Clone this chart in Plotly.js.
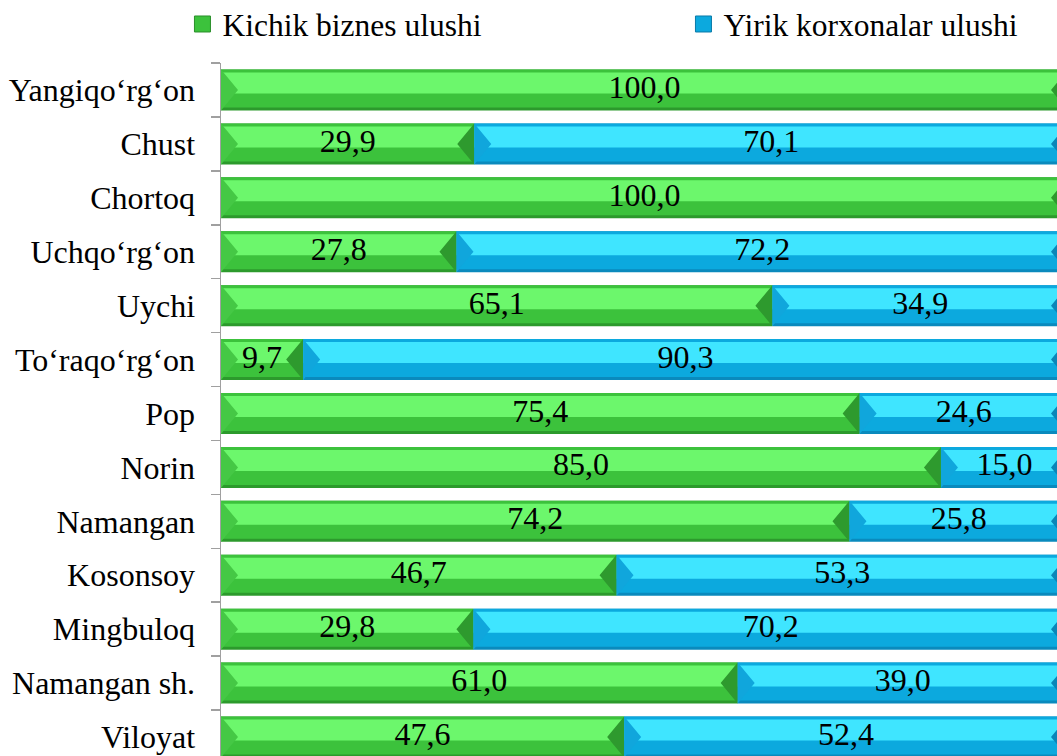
<!DOCTYPE html>
<html>
<head>
<meta charset="utf-8">
<script src="https://cdn.plot.ly/plotly-3.0.1.min.js"></script>
<style>
html,body{margin:0;padding:0;overflow:hidden;background:#fff;}
#chart{width:1070px;height:771px;}
</style>
</head>
<body>
<div id="chart"></div>
<script>
var categories = ["Yangiqo‘rg‘on","Chust","Chortoq","Uchqo‘rg‘on","Uychi","To‘raqo‘rg‘on","Pop","Norin","Namangan","Kosonsoy","Mingbuloq","Namangan sh.","Viloyat"];
var kichikBiznes = [100.0, 29.9, 100.0, 27.8, 65.1, 9.7, 75.4, 85.0, 74.2, 46.7, 29.8, 61.0, 47.6];
var yirikKorxonalar = [0.0, 70.1, 0.0, 72.2, 34.9, 90.3, 24.6, 15.0, 25.8, 53.3, 70.2, 39.0, 52.4];
var seriesNames = ["Kichik biznes ulushi", "Yirik korxonalar ulushi"];

var FONT = "Liberation Serif";
var plotW = 847, plotH = 700.7;
var rowPx = plotH / categories.length;
var barW = 41 / rowPx;
var edge = 3 / rowPx;
var lightH = 21 / rowPx;
var bevel = 17 / plotW * 100;

function fmt(v){ return v.toFixed(1).replace('.', ','); }

var greenPal = {edge:'#2c9a2c', face:'#3cc23c', light:'#6cf76c', left:'#45c845', right:'#2e9a2e', legend:'#3cc23c', legendLine:'#2a8f2a'};
var bluePal = {edge:'#0a8abd', face:'#0ca9de', light:'#3fe5ff', left:'#10a6dc', right:'#0a86b8', legend:'#0ca9de', legendLine:'#0a7aa8'};

var traces = [];
function addLayers(vals, bases, pal){
  traces.push({type:'bar', orientation:'h', y:categories, x:vals, base:bases,
    width:barW, offset:-barW/2, marker:{color:pal.edge, line:{width:0}},
    hoverinfo:'skip', showlegend:false});
  traces.push({type:'bar', orientation:'h', y:categories, x:vals, base:bases,
    width:barW-edge, offset:-barW/2, marker:{color:pal.face, line:{width:0}},
    hoverinfo:'skip', showlegend:false});
  traces.push({type:'bar', orientation:'h', y:categories, x:vals, base:bases,
    width:lightH, offset:-barW/2+edge, marker:{color:pal.light, line:{width:0}},
    hoverinfo:'skip', showlegend:false});
}
function addBevels(vals, bases, pal){
  var lx = [], ly = [], rx = [], ry = [];
  vals.forEach(function(v, i){
    if(v <= 0) return;
    var s = bases[i], e = bases[i] + v;
    var top = i - barW/2, bot = i + barW/2;
    lx.push(s, s + bevel, s, s, null); ly.push(top, i, bot, top, null);
    rx.push(e, e - bevel, e, e, null); ry.push(top, i, bot, top, null);
  });
  traces.push({type:'scatter', mode:'lines', x:lx, y:ly, yaxis:'y2', fill:'toself',
    fillcolor:pal.left, line:{width:0, color:pal.left}, hoverinfo:'skip', showlegend:false});
  traces.push({type:'scatter', mode:'lines', x:rx, y:ry, yaxis:'y2', fill:'toself',
    fillcolor:pal.right, line:{width:0, color:pal.right}, hoverinfo:'skip', showlegend:false});
}
var zeros = categories.map(function(){return 0;});
addLayers(kichikBiznes, zeros, greenPal);
addLayers(yirikKorxonalar, kichikBiznes, bluePal);
addBevels(kichikBiznes, zeros, greenPal);
addBevels(yirikKorxonalar, kichikBiznes, bluePal);

// value labels
traces.push({type:'scatter', mode:'text', y:categories,
  x:kichikBiznes.map(function(v){return v/2;}),
  text:kichikBiznes.map(function(v){return v>0?fmt(v):'';}),
  textposition:'middle center', textfont:{family:FONT, size:32, color:'black'},
  hoverinfo:'skip', showlegend:false, cliponaxis:false});
traces.push({type:'scatter', mode:'text', y:categories,
  x:yirikKorxonalar.map(function(v,i){return kichikBiznes[i]+v/2;}),
  text:yirikKorxonalar.map(function(v){return v>0?fmt(v):'';}),
  textposition:'middle center', textfont:{family:FONT, size:32, color:'black'},
  hoverinfo:'skip', showlegend:false, cliponaxis:false});

// legend entries
traces.push({type:'scatter', mode:'markers', x:[null], y:[null], name:seriesNames[0],
  marker:{symbol:'square', size:16, color:greenPal.legend, line:{color:greenPal.legendLine, width:1}}});
traces.push({type:'scatter', mode:'markers', x:[null], y:[null], name:seriesNames[1],
  marker:{symbol:'square', size:16, color:bluePal.legend, line:{color:bluePal.legendLine, width:1}}});

var layout = {
  width:1070, height:771,
  margin:{l:221, r:2, t:63, b:7, pad:0, autoexpand:false},
  paper_bgcolor:'#fff', plot_bgcolor:'#fff',
  barmode:'overlay',
  showlegend:true,
  font:{family:FONT, size:31, color:'black'},
  legend:{orientation:'h', x:-0.0455, xanchor:'left', y:1.0556, yanchor:'middle',
    font:{family:FONT, size:31.5, color:'black'}, entrywidth:456, entrywidthmode:'pixels',
    itemclick:false, itemdoubleclick:false, bgcolor:'rgba(0,0,0,0)'},
  xaxis:{range:[0,100], visible:false, fixedrange:true},
  yaxis:{type:'category', categoryorder:'array', categoryarray:categories,
    range:[categories.length-0.5, -0.5], autorange:false,
    tickson:'boundaries', ticks:'outside', ticklen:9, tickcolor:'#a0a0a0', tickwidth:1.5,
    showline:true, linecolor:'#a0a0a0', linewidth:1.5,
    showgrid:false, zeroline:false, ticklabelstandoff:18,
    tickfont:{family:FONT, size:32, color:'black'}, fixedrange:true},
  yaxis2:{overlaying:'y', anchor:'x', type:'linear', range:[categories.length-0.5, -0.5],
    autorange:false, visible:false, fixedrange:true}
};

Plotly.newPlot('chart', traces, layout, {displayModeBar:false, staticPlot:true});
</script>
</body>
</html>
